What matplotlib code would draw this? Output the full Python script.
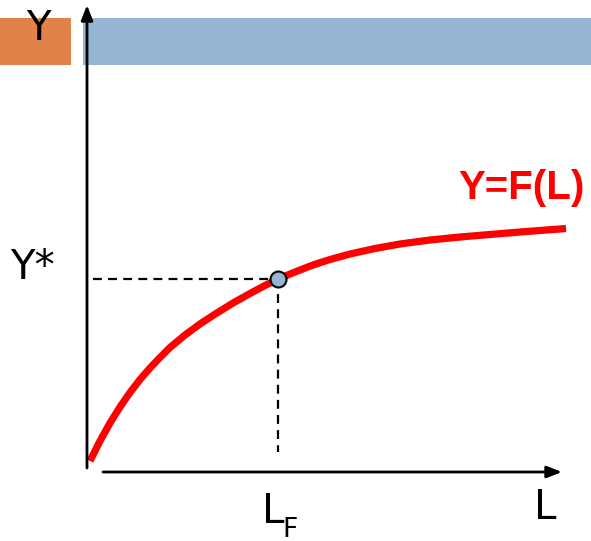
import numpy as np
import matplotlib.pyplot as plt
from matplotlib.patches import Rectangle

# Curva de producción Y = F(L) (coordenadas)
L = [90, 100, 110, 120, 130, 140, 150, 160, 170, 185, 200, 216, 233, 250,
     265, 278, 295, 313, 330, 350, 375, 400, 430, 460, 490, 520, 566]
Y = [80, 100, 118, 134, 148.5, 161.5, 173, 183.5, 193.5, 206, 217, 227.5,
     238, 247.5, 255.5, 262, 269, 276, 281.5, 287, 292.5, 297, 301, 304,
     306.5, 309, 312.5]

# Punto de equilibrio
L_F = 278
Y_star = 262

W, H = 591, 541
fig = plt.figure(figsize=(W / 100, H / 100), dpi=100)
ax = fig.add_axes([0, 0, 1, 1])
ax.set_xlim(0, W)
ax.set_ylim(0, H)
ax.axis("off")

naranja = "#E0824A"
azul = "#94B5D3"

# Banda del título
ax.add_patch(Rectangle((0, H - 65), 71, 47, color=naranja, lw=0))
ax.add_patch(Rectangle((83, H - 65), W - 83, 47, color=azul, lw=0))
ax.text(38, H - 29, "Y", fontsize=29, ha="center", va="center")

# Ejes con flechas
flecha = dict(arrowstyle="-|>,head_length=0.9,head_width=0.35", color="black",
              lw=2, shrinkA=0, shrinkB=0)
ax.annotate("", xy=(87, H - 5), xytext=(87, H - 468), arrowprops=flecha)
ax.annotate("", xy=(562, H - 472), xytext=(103, H - 472), arrowprops=flecha)

# Líneas de guía
ax.plot([93, L_F], [Y_star, Y_star], color="black", lw=1.6, ls=(0, (4, 2.8)))
ax.plot([L_F, L_F], [Y_star, H - 452], color="black", lw=1.6, ls=(0, (4, 2.8)))

# Curva
ax.plot(L, Y, color="red", lw=5.2, solid_capstyle="butt", solid_joinstyle="round")
ax.plot([L_F], [Y_star], "o", ms=11.5, mfc=azul, mec="black", mew=1.5, zorder=5)

# Etiquetas
ax.text(32, H - 268, "Y*", fontsize=29, ha="center", va="center")
ax.text(262, H - 523, "L", fontsize=29, ha="left", va="baseline")
ax.text(282, H - 537, "F", fontsize=19, ha="left", va="baseline")
ax.text(545, H - 508, "L", fontsize=29, ha="center", va="center")
ax.text(522, H - 188, "Y=F(L)", fontsize=29, fontweight="bold", color="red",
        family="Liberation Sans", ha="center", va="center")

fig.savefig("out.png", dpi=100)
